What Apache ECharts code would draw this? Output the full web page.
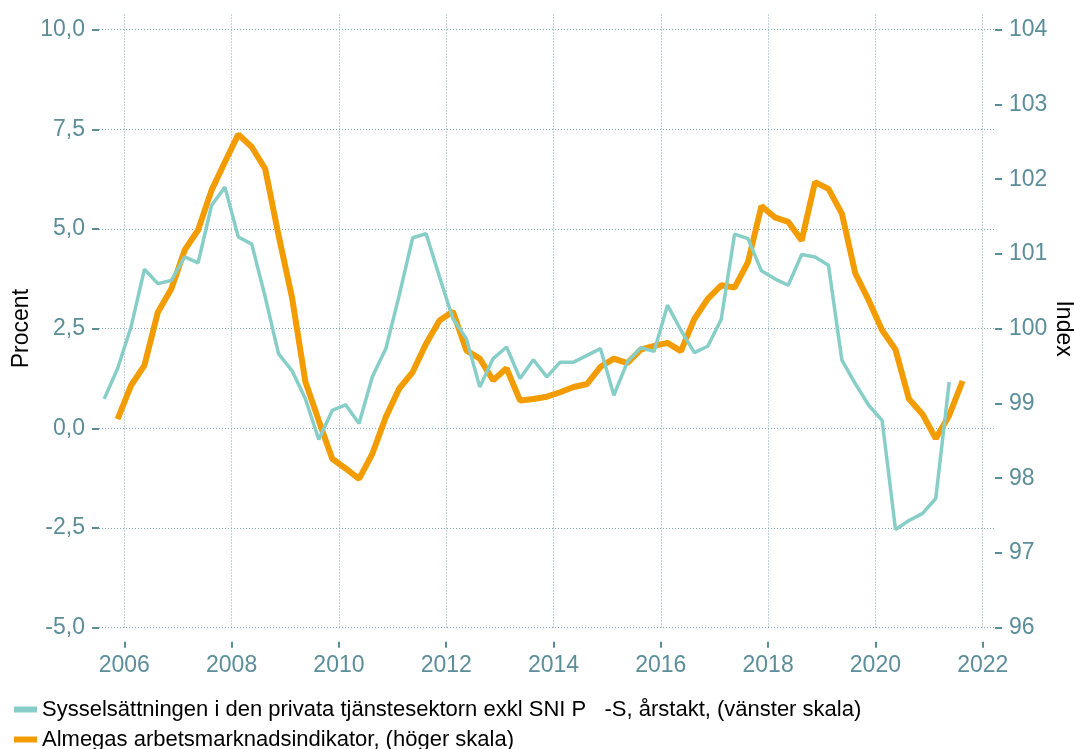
<!DOCTYPE html>
<html>
<head>
<meta charset="utf-8">
<script src="https://cdn.jsdelivr.net/npm/echarts@6/dist/echarts.min.js"></script>
<style>
html,body{margin:0;padding:0;background:#fff;}
#chart{width:1074px;height:749px;}
</style>
</head>
<body>
<div id="chart"></div>
<script>
// Quarterly observations (plotted at the middle of each quarter)
const quarters = [
  '2005K3','2005K4',
  '2006K1','2006K2','2006K3','2006K4',
  '2007K1','2007K2','2007K3','2007K4',
  '2008K1','2008K2','2008K3','2008K4',
  '2009K1','2009K2','2009K3','2009K4',
  '2010K1','2010K2','2010K3','2010K4',
  '2011K1','2011K2','2011K3','2011K4',
  '2012K1','2012K2','2012K3','2012K4',
  '2013K1','2013K2','2013K3','2013K4',
  '2014K1','2014K2','2014K3','2014K4',
  '2015K1','2015K2','2015K3','2015K4',
  '2016K1','2016K2','2016K3','2016K4',
  '2017K1','2017K2','2017K3','2017K4',
  '2018K1','2018K2','2018K3','2018K4',
  '2019K1','2019K2','2019K3','2019K4',
  '2020K1','2020K2','2020K3','2020K4',
  '2021K1','2021K2','2021K3'
];

// Sysselsättning, privat tjänstesektor, årstakt (%), left axis
const sysselsattning = [
  0.74, 1.50,
  2.54, 3.99, 3.63, 3.71,
  4.30, 4.15, 5.59, 6.05,
  4.80, 4.62, 3.30, 1.87,
  1.45, 0.74, -0.28, 0.45,
  0.59, 0.12, 1.30, 2.00,
  3.34, 4.78, 4.88, 3.80,
  2.75, 2.25, 1.04, 1.75,
  2.04, 1.25, 1.72, 1.29,
  1.66, 1.66, 1.83, 2.00,
  0.83, 1.66, 2.02, 1.93,
  3.09, 2.46, 1.90, 2.06,
  2.73, 4.87, 4.76, 3.95,
  3.75, 3.59, 4.36, 4.30,
  4.09, 1.71, 1.12, 0.58,
  0.20, -2.54, -2.31, -2.14,
  -1.76, 1.16, null
];

// Almegas arbetsmarknadsindikator (index), right axis
const almega = [
  null, 98.79,
  99.24, 99.51, 100.22, 100.53,
  101.05, 101.32, 101.85, 102.23,
  102.60, 102.43, 102.14, 101.25,
  100.42, 99.29, 98.77, 98.26,
  98.13, 97.99, 98.33, 98.82,
  99.20, 99.42, 99.80, 100.11,
  100.23, 99.71, 99.60, 99.31,
  99.47, 99.04, 99.06, 99.09,
  99.15, 99.22, 99.26, 99.49,
  99.60, 99.54, 99.72, 99.77,
  99.81, 99.70, 100.13, 100.40,
  100.58, 100.55, 100.89, 101.64,
  101.49, 101.43, 101.18, 101.96,
  101.87, 101.54, 100.74, 100.38,
  99.98, 99.72, 99.06, 98.86,
  98.53, 98.84, 99.30
];

const xTicks = [2006, 2008, 2010, 2012, 2014, 2016, 2018, 2020, 2022];
const leftTicks = [-5, -2.5, 0, 2.5, 5, 7.5, 10];
const rightTicks = [96, 97, 98, 99, 100, 101, 102, 103, 104];

const seriesNames = [
  'Sysselsättningen i den privata tjänstesektorn exkl SNI P   -S, årstakt, (vänster skala)',
  'Almegas arbetsmarknadsindikator, (höger skala)'
];

function quarterToYear(q) {
  const y = parseInt(q.slice(0, 4), 10);
  const k = parseInt(q.slice(5), 10);
  return y + (k - 0.5) / 4;
}
function pairs(values) {
  const out = [];
  values.forEach((v, i) => { if (v !== null) out.push([quarterToYear(quarters[i]), v]); });
  return out;
}

const FONT = 'Arial, "Liberation Sans", sans-serif';
const AXIS_COLOR = '#5B8E99';
const GRID_COLOR = '#7FA9B3';
const TEAL = '#88CEC8';
const ORANGE = '#F39C00';

const chart = echarts.init(document.getElementById('chart'), null, { renderer: 'canvas' });
chart.setOption({
  backgroundColor: '#ffffff',
  animation: false,
  textStyle: { fontFamily: FONT },
  grid: { left: 99, right: 79, top: 14.5, bottom: 121.3, containLabel: false, outerBoundsMode: 'none' },
  legend: {
    orient: 'vertical',
    left: 14,
    top: 698.5,
    height: 60,
    padding: 0,
    itemWidth: 23,
    itemHeight: 6,
    itemGap: 8,
    icon: 'rect',
    textStyle: { fontSize: 22, color: '#000', fontFamily: FONT },
    data: seriesNames
  },
  xAxis: {
    type: 'value',
    min: 2005.528,
    max: 2022.229,
    offset: 14,
    axisLine: { show: false, onZero: false },
    axisTick: { show: true, length: 6, customValues: xTicks, lineStyle: { color: AXIS_COLOR, width: 2 } },
    axisLabel: { customValues: xTicks, margin: 12, fontSize: 23, color: AXIS_COLOR, fontFamily: FONT,
      formatter: v => String(Math.round(v)) },
    splitLine: { show: true, lineStyle: { color: GRID_COLOR, width: 1, type: [1, 2] } }
  },
  yAxis: [
    {
      type: 'value',
      min: -5,
      max: 10.38,
      position: 'left',
      name: 'Procent',
      nameLocation: 'middle',
      nameGap: 66,
      nameMoveOverlap: false,
      nameTextStyle: { color: '#000', fontSize: 23, fontFamily: FONT, padding: [0, 15, 0, 0] },
      axisLine: { show: false, onZero: false },
      axisTick: { show: true, length: 7, customValues: leftTicks, lineStyle: { color: AXIS_COLOR, width: 2 } },
      axisLabel: { customValues: leftTicks, margin: 14, fontSize: 23, color: AXIS_COLOR, fontFamily: FONT,
        formatter: v => v.toFixed(1).replace('.', ',') },
      splitLine: { show: true, lineStyle: { color: GRID_COLOR, width: 1, type: [1, 2] } }
    },
    {
      type: 'value',
      min: 96,
      max: 104.203,
      position: 'right',
      name: 'Index',
      nameLocation: 'middle',
      nameGap: 57,
      nameRotate: -90,
      nameMoveOverlap: false,
      nameTextStyle: { color: '#000', fontSize: 23, fontFamily: FONT, padding: [0, 0, 0, 15] },
      axisLine: { show: false, onZero: false },
      axisTick: { show: true, length: 7, customValues: rightTicks, lineStyle: { color: AXIS_COLOR, width: 2 } },
      axisLabel: { customValues: rightTicks, margin: 14, fontSize: 23, color: AXIS_COLOR, fontFamily: FONT,
        formatter: v => String(Math.round(v)) },
      splitLine: { show: false }
    }
  ],
  series: [
    {
      name: seriesNames[0],
      type: 'line',
      yAxisIndex: 0,
      data: pairs(sysselsattning),
      showSymbol: false,
      symbol: 'none',
      color: TEAL,
      lineStyle: { color: TEAL, width: 3.5 },
      z: 3
    },
    {
      name: seriesNames[1],
      type: 'line',
      yAxisIndex: 1,
      data: pairs(almega),
      showSymbol: false,
      symbol: 'none',
      color: ORANGE,
      lineStyle: { color: ORANGE, width: 6 },
      z: 2
    }
  ]
});
</script>
</body>
</html>
